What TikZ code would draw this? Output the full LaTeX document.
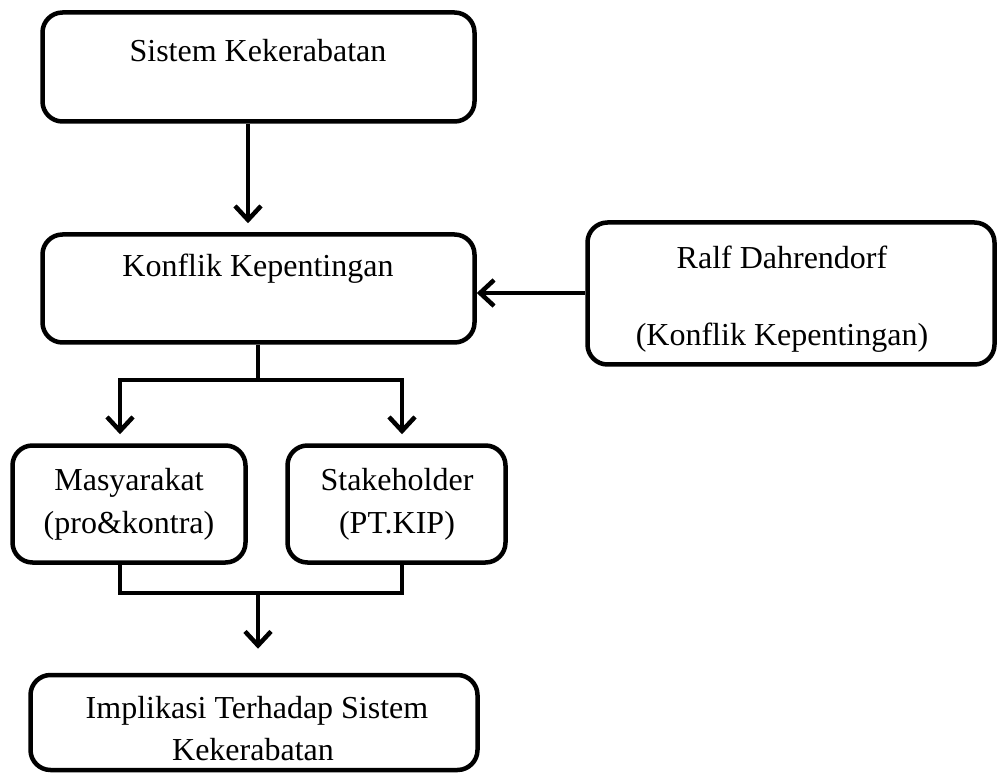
\documentclass[tikz,border=0pt]{standalone}
\usepackage{fontspec}
\setmainfont{Liberation Serif}
\usetikzlibrary{arrows.meta,calc}
\begin{document}
\begin{tikzpicture}[x=1pt,y=-1pt,
  box/.style={draw, line width=4.5pt, rounded corners=20pt, inner sep=0pt},
  lbl/.style={font=\fontsize{32}{38}\selectfont, anchor=base, inner sep=0pt},
  conn/.style={line width=4.5pt},
  arr/.style={conn, -{Straight Barb[length=14pt,width=26pt,line width=4.5pt]}}]
\useasboundingbox (0,0) rectangle (1001,775);
% boxes
\node[box, minimum width=432pt, minimum height=109pt] (b1) at (258.5,67) {};
\node[box, minimum width=432pt, minimum height=108pt] (b2) at (258.5,288.5) {};
\node[box, minimum width=407pt, minimum height=142pt] (ralf) at (791,293.5) {};
\node[box, minimum width=233pt, minimum height=117pt] (mas) at (129,504) {};
\node[box, minimum width=218pt, minimum height=117pt] (stk) at (396.5,504) {};
\node[box, minimum width=447pt, minimum height=95pt] (imp) at (254,722.5) {};
% texts
\node[lbl] (t1) at (258,62) {Sistem Kekerabatan};
\node[lbl] (t2) at (258,277) {Konflik Kepentingan};
\node[lbl] (t3a) at (782,269) {Ralf Dahrendorf};
\node[lbl] (t3b) at (782,345) {(Konflik Kepentingan)};
\node[lbl] (t4a) at (129,490) {Masyarakat};
\node[lbl] (t4b) at (129,533) {(pro\&kontra)};
\node[lbl] (t5a) at (397,490) {Stakeholder};
\node[lbl] (t5b) at (397,533) {(PT.KIP)};
\node[lbl] (t6a) at (257,718) {Implikasi Terhadap Sistem};
\node[lbl] (t6b) at (253,760) {Kekerabatan};
% connector points
\coordinate (split) at (258,380);
\coordinate (join) at (258,593);
% connectors
\draw[arr, shorten >=9pt] (b1.south -| 248,0) -- (b2.north -| 248,0);
\draw[arr] (ralf.west |- 0,293) -- (b2.east |- 0,293);
\draw[conn] (b2.south -| split) -- (split);
\draw[arr, shorten >=9pt] (split) -| (mas.north -| 120,0);
\draw[arr, shorten >=9pt] (split) -| (stk.north -| 402,0);
\draw[conn] (mas.south -| 120,0) |- (join) -| (stk.south -| 402,0);
\draw[arr, shorten >=24pt] (join) -- (imp.north -| join);
\end{tikzpicture}
\end{document}
